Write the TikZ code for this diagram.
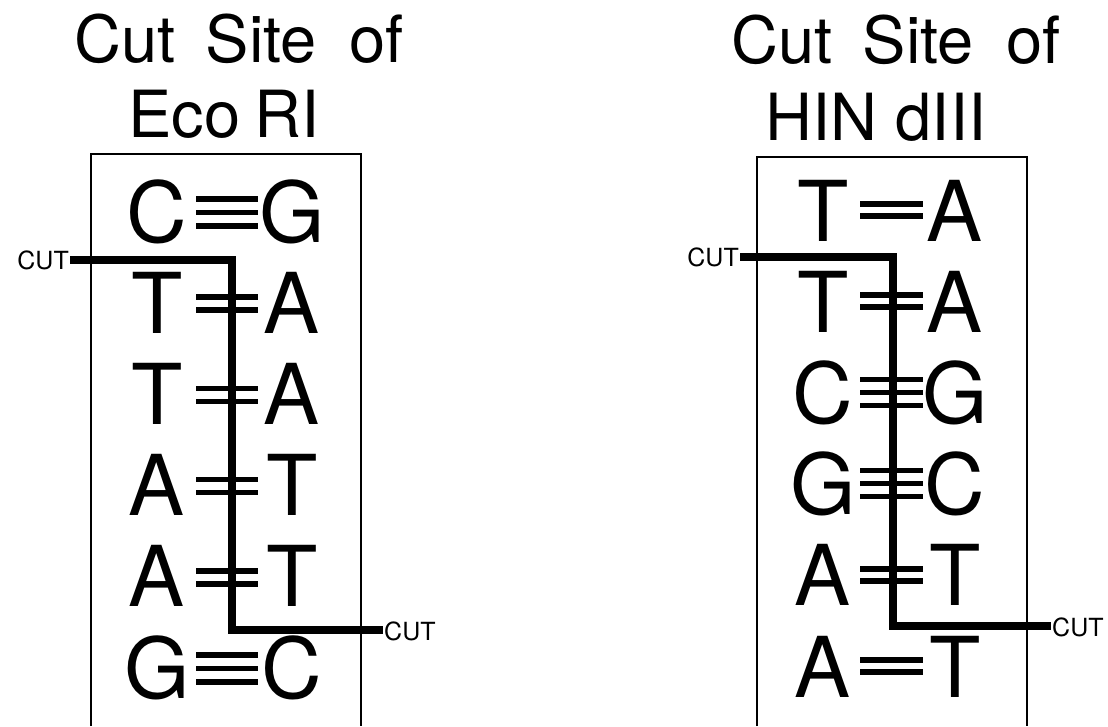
\documentclass[tikz,border=0pt]{standalone}
\usepackage{fontspec}
\setmainfont{TeX Gyre Heros}
\begin{document}
\begin{tikzpicture}[x=1pt,y=-1pt,
  base/.style={inner sep=0pt, anchor=base, font=\fontsize{84}{84}\selectfont},
  ttl/.style={inner sep=0pt, anchor=base, font=\fontsize{65}{65}\selectfont},
  cutlbl/.style={inner sep=1pt, font=\fontsize{25}{25}\selectfont},
  bond/.style={line width=5.5pt},
  cutline/.style={line width=8pt},
  frame/.style={line width=1.6pt}]
\useasboundingbox (0,0) rectangle (1108,726);
\fill[white] (0,0) rectangle (1108,726);

% ---------------- left panel: Eco RI ----------------
\node[ttl] (tL1) at (239,62) {Cut\hspace{0.46em}Site\hspace{0.5em}of};
\node[ttl] (tL2) at (224,137) {Eco\hspace{-0.06em} RI};
\draw[frame] (91,726) -- (91,154) -- (361,154) -- (361,726);

\foreach \i/\a/\b/\n in {0/C/G/3, 1/T/A/2, 2/T/A/2, 3/A/T/2, 4/A/T/2, 5/G/C/3}{
  \pgfmathsetmacro{\yb}{242+91.2*\i}
  \node[base] (lL\i) at (157,\yb) {\a};
  \node[base] (rL\i) at (292,\yb) {\b};
  \ifnum\n=3
    \foreach \o in {-43,-29.5,-16} \draw[bond] (196,\yb+\o) -- (258,\yb+\o);
  \else
    \foreach \o in {-36,-23} \draw[bond] (196,\yb+\o) -- (258,\yb+\o);
  \fi
}
\node[cutlbl, anchor=east] (cutLa) at (70,260) {CUT};
\node[cutlbl, anchor=west] (cutLb) at (383,631) {CUT};
\coordinate (kL1) at (232,260);
\coordinate (kL2) at (232,630);
\draw[cutline, line join=miter] (cutLa.east) -- (kL1) -- (kL2) -- (cutLb.west |- kL2);

% ---------------- right panel: HIN dIII ----------------
\node[ttl] (tR1) at (896,63) {Cut\hspace{0.46em}Site\hspace{0.5em}of};
\node[ttl] (tR2) at (876,140) {HIN dIII};
\draw[frame] (757,726) -- (757,157) -- (1027,157) -- (1027,726);

\foreach \i/\a/\b/\n in {0/T/A/2, 1/T/A/2, 2/C/G/3, 3/G/C/3, 4/A/T/2, 5/A/T/2}{
  \pgfmathsetmacro{\yb}{241+91.2*\i}
  \node[base] (lR\i) at (823,\yb) {\a};
  \node[base] (rR\i) at (955,\yb) {\b};
  \ifnum\n=3
    \foreach \o in {-44,-31,-18} \draw[bond] (860,\yb+\o) -- (923,\yb+\o);
  \else
    \foreach \o in {-37,-25} \draw[bond] (860,\yb+\o) -- (923,\yb+\o);
  \fi
}
\node[cutlbl, anchor=east] (cutRa) at (740,257) {CUT};
\node[cutlbl, anchor=west] (cutRb) at (1051,627) {CUT};
\coordinate (kR1) at (893,257);
\coordinate (kR2) at (893,626);
\draw[cutline, line join=miter] (cutRa.east) -- (kR1) -- (kR2) -- (cutRb.west |- kR2);
\end{tikzpicture}
\end{document}
